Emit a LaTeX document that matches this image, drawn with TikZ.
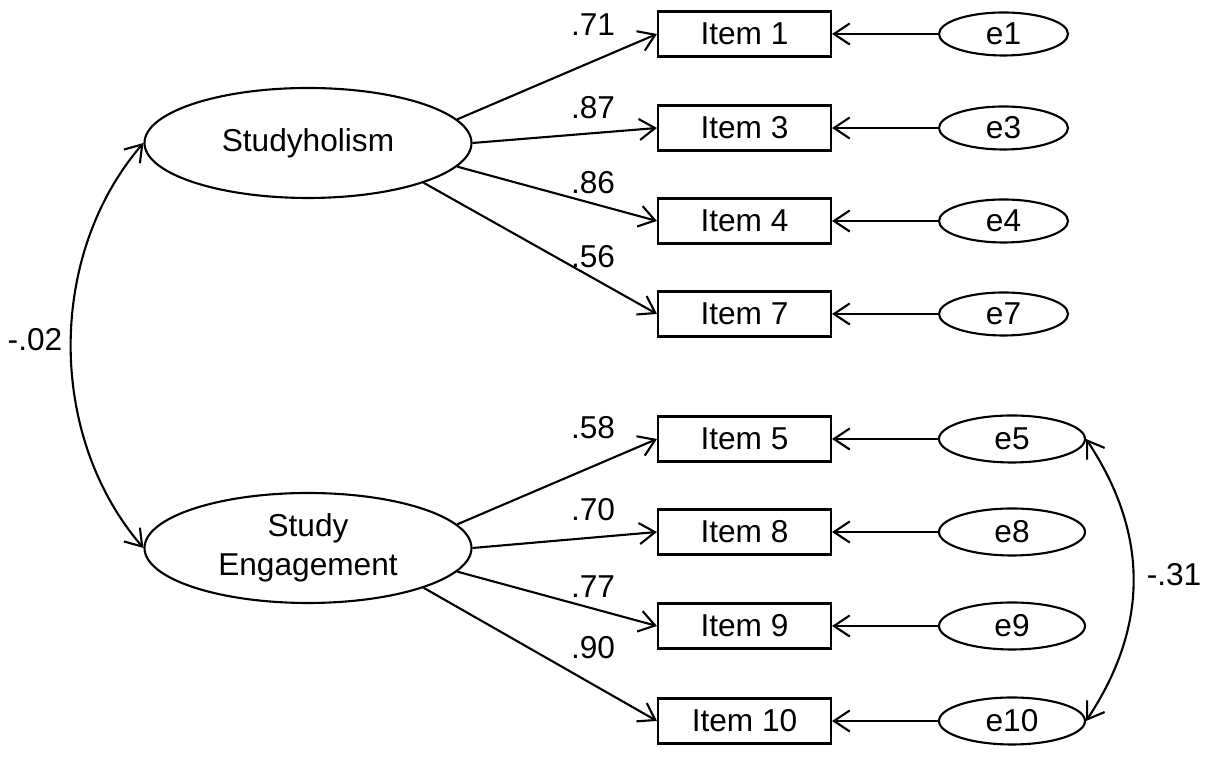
\documentclass[tikz,border=0pt]{standalone}
\usepackage{fontspec}
\setmainfont{Liberation Sans}
\usetikzlibrary{arrows.meta}
\usetikzlibrary{shapes.geometric}

\tikzset{
  every node/.style={font=\fontsize{9}{11}\selectfont},
  latent/.style={ellipse, draw, line width=0.6pt, minimum width=3.27cm, minimum height=1.1cm, inner sep=0pt, align=center},
  item/.style={rectangle, draw, line width=0.6pt, minimum width=1.73cm, minimum height=0.45cm, inner sep=0pt},
  err/.style={ellipse, draw, line width=0.6pt, minimum width=1.29cm, minimum height=0.43cm, inner sep=0pt},
  errwide/.style={err, minimum width=1.46cm, minimum height=0.47cm},
  coef/.style={inner sep=0pt},
  load/.style={-{Straight Barb[length=4.5pt,width=6pt]}, line width=0.6pt},
  cov/.style={{Straight Barb[length=4.5pt,width=6pt]}-{Straight Barb[length=4.5pt,width=6pt]}, line width=0.6pt}
}

\begin{document}
\begin{tikzpicture}
\useasboundingbox (0,0) rectangle (12.06,7.57);
% latent variables
\node (S) at (3.08,6.14) [latent] {Studyholism};
\node (E) at (3.08,2.09) [latent] {Study\\Engagement};
% observed items
\node (i1) at (7.445,7.23) [item] {Item 1};
\node (i3) at (7.445,6.29) [item] {Item 3};
\node (i4) at (7.445,5.36) [item] {Item 4};
\node (i7) at (7.445,4.43) [item] {Item 7};
\node (i5) at (7.445,3.18) [item] {Item 5};
\node (i8) at (7.445,2.25) [item] {Item 8};
\node (i9) at (7.445,1.31) [item] {Item 9};
\node (i10) at (7.445,0.36) [item] {Item 10};
% error terms
\node (e1) at (10.035,7.23) [err] {e1};
\node (e3) at (10.035,6.29) [err] {e3};
\node (e4) at (10.035,5.36) [err] {e4};
\node (e7) at (10.035,4.43) [err] {e7};
\node (e5) at (10.12,3.18) [errwide] {e5};
\node (e8) at (10.12,2.25) [errwide] {e8};
\node (e9) at (10.12,1.31) [errwide] {e9};
\node (e10) at (10.12,0.36) [errwide] {e10};
% loadings
\node (l1) at (5.93,7.32) [coef] {.71};
\node (l3) at (5.93,6.49) [coef] {.87};
\node (l4) at (5.93,5.74) [coef] {.86};
\node (l7) at (5.93,5.00) [coef] {.56};
\node (l5) at (5.93,3.29) [coef] {.58};
\node (l8) at (5.93,2.47) [coef] {.70};
\node (l9) at (5.93,1.70) [coef] {.77};
\node (l10) at (5.93,1.09) [coef] {.90};
\node (rS) at (0.35,4.17) [coef] {-.02};
\node (re) at (11.74,1.82) [coef] {-.31};
\draw[load] (S.9) -- (i1.west);
\draw[load] (S.east) -- (i3.west);
\draw[load] (S.-9) -- (i4.west);
\draw[load] (S.-19) -- (i7.west);
\draw[load] (E.9) -- (i5.west);
\draw[load] (E.east) -- (i8.west);
\draw[load] (E.-9) -- (i9.west);
\draw[load] (E.-19) -- (i10.west);
\draw[load] (e1) -- (i1);
\draw[load] (e3) -- (i3);
\draw[load] (e4) -- (i4);
\draw[load] (e7) -- (i7);
\draw[load] (e5) -- (i5);
\draw[load] (e8) -- (i8);
\draw[load] (e9) -- (i9);
\draw[load] (e10) -- (i10);
\draw[cov] (S.west) .. controls (0.47,5.02) and (0.47,3.21) .. (E.west);
\draw[cov] (e5.east) .. controls (11.49,2.23) and (11.49,1.31) .. (e10.east);
\end{tikzpicture}
\end{document}
